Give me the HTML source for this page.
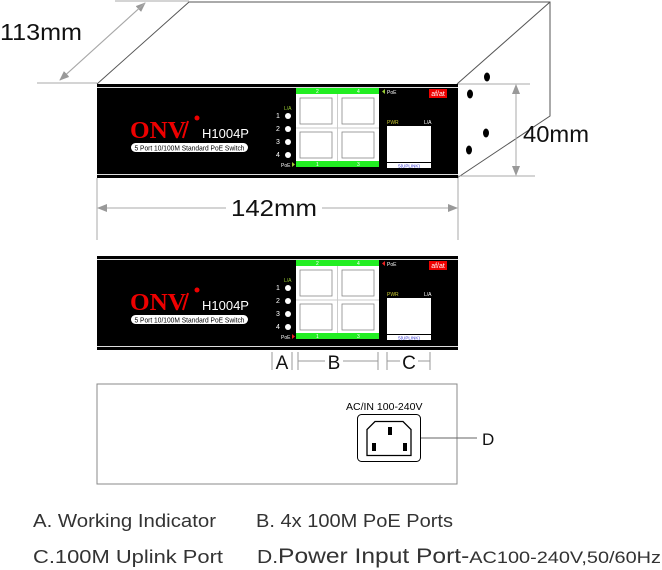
<!DOCTYPE html>
<html><head><meta charset="utf-8"><style>
html,body{margin:0;padding:0;background:#fff;width:662px;height:570px;overflow:hidden}
svg{display:block}
</style></head><body>
<svg width="662" height="570" viewBox="0 0 662 570" xmlns="http://www.w3.org/2000/svg" font-family="Liberation Sans, sans-serif">
<defs>
<marker id="ar" markerWidth="10" markerHeight="8" refX="9" refY="4" orient="auto" markerUnits="userSpaceOnUse"><path d="M0,0 L10,4 L0,8 Z" fill="#999"/></marker>
</defs>
<g stroke="#555" stroke-width="1" fill="none">
<path d="M97,84 L189,2 L550,2 L550,116 L457,178"/>
<path d="M457,84 L550,2"/>
</g>
<g fill="#000"><ellipse cx="487" cy="77" rx="3" ry="4.5"/><ellipse cx="470" cy="94" rx="3" ry="4.5"/><ellipse cx="486" cy="133" rx="3" ry="4.5"/><ellipse cx="469" cy="150" rx="3" ry="4.5"/></g>
<g stroke="#aaa" stroke-width="1" fill="none">
<line x1="37" y1="83" x2="97" y2="83"/>
<line x1="115" y1="1" x2="189" y2="1"/>
<line x1="60" y1="80" x2="145" y2="3" marker-end="url(#ar)"/>
<line x1="145" y1="3" x2="60" y2="80" marker-end="url(#ar)"/>
<line x1="458" y1="84" x2="530" y2="84"/>
<line x1="458" y1="176" x2="535" y2="176"/>
<line x1="516" y1="130" x2="516" y2="85" marker-end="url(#ar)"/>
<line x1="516" y1="130" x2="516" y2="175" marker-end="url(#ar)"/>
<line x1="97" y1="178" x2="97" y2="240"/>
<line x1="458" y1="178" x2="458" y2="240"/>
<line x1="226" y1="208" x2="98" y2="208" marker-end="url(#ar)"/>
<line x1="322" y1="208" x2="457" y2="208" marker-end="url(#ar)"/>
</g>
<text x="0" y="40" font-size="23" fill="#111" textLength="82" lengthAdjust="spacingAndGlyphs">113mm</text>
<text x="523" y="142" font-size="23" fill="#111" textLength="66" lengthAdjust="spacingAndGlyphs">40mm</text>
<text x="231" y="216" font-size="23" fill="#111" textLength="86" lengthAdjust="spacingAndGlyphs">142mm</text>

<g>
<rect x="97" y="84" width="361" height="94" fill="#000"/>
<line x1="97" y1="87.5" x2="458" y2="87.5" stroke="#ddd" stroke-width="1"/>
<line x1="97" y1="174.5" x2="458" y2="174.5" stroke="#ddd" stroke-width="1"/>
<text x="130" y="138" font-size="24" font-weight="bold" fill="#e00" font-family="Liberation Serif, serif" textLength="56" lengthAdjust="spacingAndGlyphs">ONV</text>
<line x1="183" y1="138" x2="188" y2="121" stroke="#e00" stroke-width="2"/>
<circle cx="197" cy="118" r="2.5" fill="#e00"/>
<text x="202" y="138" font-size="13" fill="#fff">H1004P</text>
<rect x="131" y="143" width="117" height="9" rx="4.5" fill="#fff"/>
<text x="189.5" y="150.5" font-size="7" fill="#000" text-anchor="middle" textLength="110" lengthAdjust="spacingAndGlyphs">5 Port 10/100M Standard PoE Switch</text>
<text x="284" y="110" font-size="5" fill="#9c3">L/A</text>
<g fill="#fff" font-size="7"><text x="276" y="118">1</text><text x="276" y="131">2</text><text x="276" y="144">3</text><text x="276" y="157">4</text></g>
<g fill="#fff"><circle cx="288" cy="116" r="3"/><circle cx="288" cy="129" r="3"/><circle cx="288" cy="142" r="3"/><circle cx="288" cy="155" r="3"/></g>
<text x="281" y="167" font-size="5" fill="#fff">PoE</text>
<path d="M292,162 L295,164.5 L292,167Z" fill="#9c3"/>
<rect x="296" y="88" width="83" height="6" fill="#2e2"/>
<rect x="296" y="161" width="83" height="6" fill="#2e2"/>
<g fill="#fff" font-size="5"><text x="316" y="93">2</text><text x="357" y="93">4</text><text x="316" y="166">1</text><text x="357" y="166">3</text></g>
<rect x="296" y="94" width="83" height="67" fill="#fff"/>
<g fill="none" stroke="#888" stroke-width="0.8"><rect x="300" y="98" width="32" height="26"/><rect x="342" y="98" width="32" height="26"/><rect x="300" y="132" width="32" height="26"/><rect x="342" y="132" width="32" height="26"/></g>
<line x1="337.5" y1="94" x2="337.5" y2="161" stroke="#ccc"/>
<line x1="296" y1="128" x2="379" y2="128" stroke="#ccc"/>
<path d="M385,89 L382,91.5 L385,94Z" fill="#9c3"/>
<text x="387" y="94" font-size="5" fill="#fff">PoE</text>
<rect x="429" y="89" width="18" height="9" fill="#e00"/>
<text x="438" y="96" font-size="7" fill="#fff" text-anchor="middle">af/at</text>
<text x="387" y="124" font-size="5" fill="#cc3">PWR</text>
<text x="424" y="124" font-size="5" fill="#fff">L/A</text>
<rect x="387" y="126" width="44" height="36" fill="#fff"/>
<rect x="387" y="163" width="44" height="5" fill="#fff"/>
<text x="409" y="167.5" font-size="4.5" fill="#33c" text-anchor="middle">5(UPLINK)</text>
</g>
<g transform="translate(0,172)">
<rect x="97" y="84" width="361" height="94" fill="#000"/>
<line x1="97" y1="87.5" x2="458" y2="87.5" stroke="#ddd" stroke-width="1"/>
<line x1="97" y1="174.5" x2="458" y2="174.5" stroke="#ddd" stroke-width="1"/>
<text x="130" y="138" font-size="24" font-weight="bold" fill="#e00" font-family="Liberation Serif, serif" textLength="56" lengthAdjust="spacingAndGlyphs">ONV</text>
<line x1="183" y1="138" x2="188" y2="121" stroke="#e00" stroke-width="2"/>
<circle cx="197" cy="118" r="2.5" fill="#e00"/>
<text x="202" y="138" font-size="13" fill="#fff">H1004P</text>
<rect x="131" y="143" width="117" height="9" rx="4.5" fill="#fff"/>
<text x="189.5" y="150.5" font-size="7" fill="#000" text-anchor="middle" textLength="110" lengthAdjust="spacingAndGlyphs">5 Port 10/100M Standard PoE Switch</text>
<text x="284" y="110" font-size="5" fill="#9c3">L/A</text>
<g fill="#fff" font-size="7"><text x="276" y="118">1</text><text x="276" y="131">2</text><text x="276" y="144">3</text><text x="276" y="157">4</text></g>
<g fill="#fff"><circle cx="288" cy="116" r="3"/><circle cx="288" cy="129" r="3"/><circle cx="288" cy="142" r="3"/><circle cx="288" cy="155" r="3"/></g>
<text x="281" y="167" font-size="5" fill="#fff">PoE</text>
<path d="M292,162 L295,164.5 L292,167Z" fill="#e22"/>
<rect x="296" y="88" width="83" height="6" fill="#2e2"/>
<rect x="296" y="161" width="83" height="6" fill="#2e2"/>
<g fill="#fff" font-size="5"><text x="316" y="93">2</text><text x="357" y="93">4</text><text x="316" y="166">1</text><text x="357" y="166">3</text></g>
<rect x="296" y="94" width="83" height="67" fill="#fff"/>
<g fill="none" stroke="#888" stroke-width="0.8"><rect x="300" y="98" width="32" height="26"/><rect x="342" y="98" width="32" height="26"/><rect x="300" y="132" width="32" height="26"/><rect x="342" y="132" width="32" height="26"/></g>
<line x1="337.5" y1="94" x2="337.5" y2="161" stroke="#ccc"/>
<line x1="296" y1="128" x2="379" y2="128" stroke="#ccc"/>
<path d="M385,89 L382,91.5 L385,94Z" fill="#e22"/>
<text x="387" y="94" font-size="5" fill="#fff">PoE</text>
<rect x="429" y="89" width="18" height="9" fill="#e00"/>
<text x="438" y="96" font-size="7" fill="#fff" text-anchor="middle">af/at</text>
<text x="387" y="124" font-size="5" fill="#cc3">PWR</text>
<text x="424" y="124" font-size="5" fill="#fff">L/A</text>
<rect x="387" y="126" width="44" height="36" fill="#fff"/>
<rect x="387" y="163" width="44" height="5" fill="#fff"/>
<text x="409" y="167.5" font-size="4.5" fill="#33c" text-anchor="middle">5(UPLINK)</text>
</g>
<g stroke="#999" stroke-width="1" fill="none">
<line x1="272" y1="352" x2="272" y2="370"/><line x1="292" y1="352" x2="292" y2="370"/>
<line x1="298" y1="352" x2="298" y2="370"/><line x1="378" y1="352" x2="378" y2="370"/>
<line x1="298" y1="361" x2="325" y2="361"/><line x1="343" y1="361" x2="378" y2="361"/>
<line x1="387" y1="352" x2="387" y2="370"/><line x1="430" y1="352" x2="430" y2="370"/>
<line x1="387" y1="361" x2="400" y2="361"/><line x1="418" y1="361" x2="430" y2="361"/>
</g>
<g font-size="19" fill="#111" text-anchor="middle"><text x="282" y="369">A</text><text x="334" y="369">B</text><text x="409" y="369">C</text></g>
<path d="M97,384 L457,384 L457,484 L97,484 Z" fill="none" stroke="#888" stroke-width="1"/>
<text x="346" y="410" font-size="10.5" fill="#000">AC/IN  100-240V</text>
<rect x="357.5" y="414.5" width="63" height="47" rx="4" fill="none" stroke="#000" stroke-width="1"/>
<path d="M375,421.5 L403,421.5 L411,429.5 L411,455.5 L367,455.5 L367,429.5 Z" fill="none" stroke="#000" stroke-width="1.3"/>
<g fill="#000"><rect x="388" y="427" width="4" height="8"/><rect x="372" y="443" width="4" height="8"/><rect x="403" y="443" width="4" height="8"/></g>
<line x1="421" y1="438" x2="477" y2="438" stroke="#666"/>
<text x="482" y="445" font-size="17" fill="#111">D</text>
<g font-size="18" fill="#333">
<text x="33" y="527" textLength="183" lengthAdjust="spacingAndGlyphs">A. Working Indicator</text>
<text x="256" y="527" textLength="197" lengthAdjust="spacingAndGlyphs">B. 4x 100M PoE Ports</text>
<text x="33" y="563" textLength="190" lengthAdjust="spacingAndGlyphs">C.100M Uplink Port</text>
<text x="257" y="563" textLength="404" lengthAdjust="spacingAndGlyphs">D.<tspan font-size="21">Power Input Port-</tspan><tspan font-size="17">AC100-240V,50/60Hz</tspan></text>
</g>
</svg>
</body></html>
